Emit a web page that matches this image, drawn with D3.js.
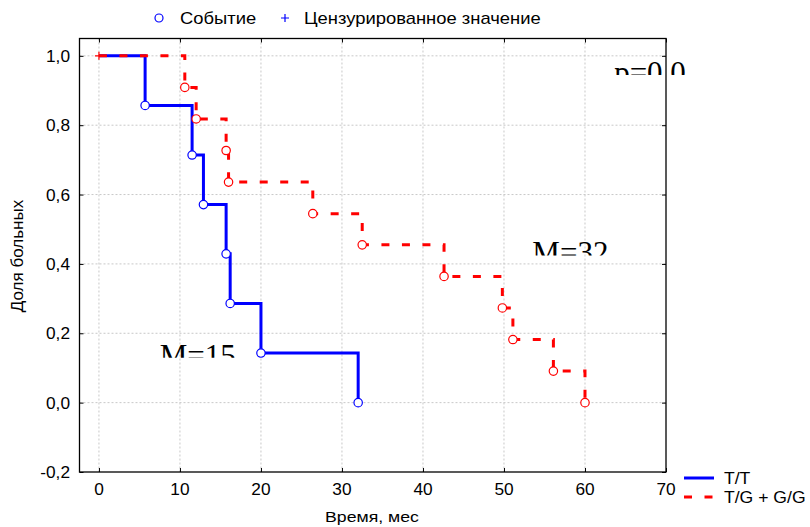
<!DOCTYPE html>
<html><head><meta charset="utf-8">
<script src="https://cdn.jsdelivr.net/npm/d3@7"></script>
<style>body{margin:0;background:#fff}svg{display:block}</style>
</head><body>
<svg id="c" width="810" height="527"></svg>
<script>
// ---- data ----
const seriesNames = ["T/T", "T/G + G/G"];
const ttTimes = [5.7, 11.5, 12.9, 15.7, 16.2, 20.0, 32.0];
const ttSurv  = [0.857, 0.714, 0.571, 0.429, 0.286, 0.143, 0.0];
const tgTimes = [10.6, 12.0, 15.7, 16.0, 26.4, 32.5, 42.6, 49.8, 51.1, 56.1, 60.0];
const tgSurv  = [0.909, 0.818, 0.727, 0.636, 0.545, 0.455, 0.364, 0.273, 0.182, 0.091, 0.0];
const censoredTimes = [0];
const censoredSurv = [1.0];
const xTicks = [0, 10, 20, 30, 40, 50, 60, 70];
const yTicks = [-0.2, 0, 0.2, 0.4, 0.6, 0.8, 1.0];
const annotations = [
  {text: "p=0,0", x: 63.6, y: 0.93},
  {text: "M=32", x: 53.5, y: 0.41},
  {text: "M=15", x: 7.5, y: 0.115}
];

const svg = d3.select("#c");
const L = 79.5, R = 666, T = 38.5, B = 472;
const x = d3.scaleLinear().domain([-2.4, 70]).range([L, R]);
const y = d3.scaleLinear().domain([-0.2, 1.05]).range([B, T]);
const fmt = d => d3.format(".1f")(d).replace(".", ",").replace("−", "-");
const SANS = "Liberation Sans, Arial";

function stext(parent, tx, ty, str, size, sx, anchor) {
  return parent.append("text")
    .attr("transform", `translate(${tx},${ty}) scale(${sx},1)`)
    .attr("text-anchor", anchor || "start")
    .attr("font-family", SANS).attr("font-size", size).attr("fill", "#000").text(str);
}

// grid
const g = svg.append("g");
g.selectAll("line.vg").data(xTicks.filter(d => d < 70)).join("line")
  .attr("x1", d => x(d)).attr("x2", d => x(d)).attr("y1", T).attr("y2", B)
  .attr("stroke", "#c8c8c8").attr("stroke-dasharray", "2,2").attr("stroke-width", 1);
g.selectAll("line.hg").data(yTicks.filter(d => d > -0.2)).join("line")
  .attr("x1", L).attr("x2", R).attr("y1", d => y(d)).attr("y2", d => y(d))
  .attr("stroke", "#c8c8c8").attr("stroke-dasharray", "2,2").attr("stroke-width", 1);

// axes (inner ticks)
svg.append("g").attr("transform", `translate(0,${B})`)
  .call(d3.axisBottom(x).tickValues(xTicks).tickSizeInner(-4).tickSizeOuter(0).tickFormat(""))
  .call(a => a.select(".domain").remove());
xTicks.forEach(t => stext(svg, x(t), 495, String(t), 16, 1.08, "middle"));
svg.append("g").attr("transform", `translate(0,${T})`)
  .call(d3.axisTop(x).tickValues(xTicks).tickSizeInner(-4).tickSizeOuter(0).tickFormat(""))
  .call(a => a.select(".domain").remove());
svg.append("g").attr("transform", `translate(${L},0)`)
  .call(d3.axisLeft(y).tickValues(yTicks).tickSizeInner(-4).tickSizeOuter(0).tickFormat(""))
  .call(a => a.select(".domain").remove());
yTicks.forEach(t => stext(svg, 70, y(t) + 6, fmt(t), 16, 1.08, "end"));
svg.append("g").attr("transform", `translate(${R},0)`)
  .call(d3.axisRight(y).tickValues(yTicks).tickSizeInner(-4).tickSizeOuter(0).tickFormat(""))
  .call(a => a.select(".domain").remove());

// annotations (clipped at bottom like the original)
annotations.forEach((a, i) => {
  const cp = svg.append("clipPath").attr("id", "cp" + i);
  cp.append("rect").attr("x", x(a.x) - 5).attr("y", y(a.y) - 40).attr("width", 120).attr("height", 35);
  svg.append("text").attr("clip-path", `url(#cp${i})`)
    .attr("x", x(a.x)).attr("y", y(a.y) + 3)
    .attr("font-family", "Liberation Serif, Times New Roman").attr("font-size", 31)
    .attr("fill", "#000").text(a.text);
});

// curves
const line = d3.line().x(d => x(d[0])).y(d => y(d[1])).curve(d3.curveStepAfter);
const ttPts = [[0, 1]].concat(ttTimes.map((t, i) => [t, ttSurv[i]]));
const tgPts = [[0, 1]].concat(tgTimes.map((t, i) => [t, tgSurv[i]]));
svg.append("path").attr("d", line(ttPts)).attr("fill", "none").attr("stroke", "#0000ff").attr("stroke-width", 3);
svg.append("path").attr("d", line(tgPts)).attr("fill", "none").attr("stroke", "#ff0000").attr("stroke-width", 3).attr("stroke-dasharray", "8,12.5");

svg.selectAll("circle.tt").data(ttTimes).join("circle")
  .attr("cx", d => x(d)).attr("cy", (d, i) => y(ttSurv[i])).attr("r", 4.2)
  .attr("fill", "#fff").attr("stroke", "#0000ff").attr("stroke-width", 1.2);
svg.selectAll("circle.tg").data(tgTimes).join("circle")
  .attr("cx", d => x(d)).attr("cy", (d, i) => y(tgSurv[i])).attr("r", 4.2)
  .attr("fill", "#fff").attr("stroke", "#ff0000").attr("stroke-width", 1.2);
// censored marks
censoredTimes.forEach((t, i) => {
  const cx = x(t), cy = y(censoredSurv[i]);
  svg.append("path").attr("d", `M${cx-4},${cy}H${cx+4}M${cx},${cy-4}V${cy+4}`).attr("stroke", "#ff0000").attr("stroke-width", 1.2);
});

// frame
svg.append("rect").attr("x", L).attr("y", T).attr("width", R - L).attr("height", B - T)
  .attr("fill", "none").attr("stroke", "#000").attr("stroke-width", 1.3);

// axis titles
stext(svg, 372, 522, "Время, мес", 15, 1.18, "middle");
svg.append("text").attr("transform", "translate(23,256) rotate(-90)").attr("text-anchor", "middle")
  .attr("font-family", SANS).attr("font-size", 17).text("Доля больных");

// top legend
svg.append("circle").attr("cx", 159).attr("cy", 18).attr("r", 4).attr("fill", "#fff").attr("stroke", "#0000ff").attr("stroke-width", 1.2);
stext(svg, 180, 24, "Событие", 16, 1.15);
svg.append("path").attr("d", "M281,18H289M285,14V22").attr("stroke", "#0000ff").attr("stroke-width", 1.2);
stext(svg, 304, 24, "Цензурированное значение", 16, 1.15);

// bottom-right legend
const lg = svg.append("g");
seriesNames.forEach((n, i) => {
  const yy = 478 + i * 19;
  lg.append("line").attr("x1", 684).attr("x2", 714).attr("y1", yy).attr("y2", yy)
    .attr("stroke", i === 0 ? "#0000ff" : "#ff0000").attr("stroke-width", 3)
    .attr("stroke-dasharray", i === 0 ? null : "8,12.5");
  stext(lg, 724, yy + 6, n, 16, 1.1);
});
</script>
</body></html>
